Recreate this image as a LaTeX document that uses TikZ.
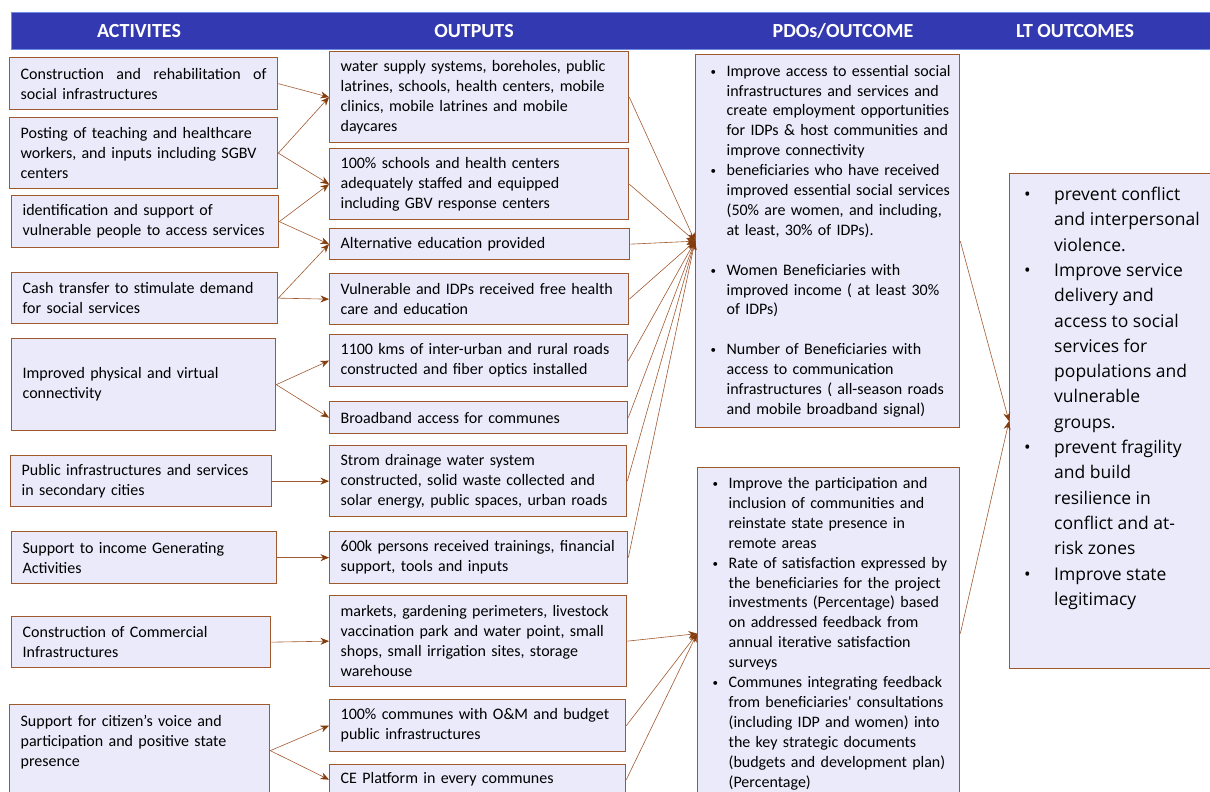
\documentclass[tikz,border=0pt]{standalone}
\usepackage{fontspec}
\setmainfont{Carlito}
\newfontfamily\plainfont[Ligatures=TeXOff]{Carlito}
\newfontfamily\ltfont{Open Sans}
\usetikzlibrary{arrows.meta}
\definecolor{hdrc}{RGB}{51,57,176}
\definecolor{hdrl}{RGB}{110,140,225}
\definecolor{brd}{RGB}{160,88,45}
\definecolor{boxfill}{RGB}{234,234,250}
\definecolor{arr}{RGB}{132,60,12}
\definecolor{lnc}{RGB}{160,90,50}
\newcommand{\smbul}{\raisebox{1pt}{\fontsize{11}{11}\selectfont\textbullet}}
\newcommand{\bitem}[1]{\hspace*{9pt}\makebox[16pt][l]{\smbul}#1}
\newcommand{\bcont}[1]{\hspace*{25pt}#1}
\newcommand{\ltb}[1]{\hspace*{15pt}\makebox[30pt][l]{\textbullet}#1}
\newcommand{\ltc}[1]{\hspace*{45pt}#1}
\tikzset{
  box/.style={draw=brd, fill=boxfill, line width=1.3pt, inner xsep=11pt, inner ysep=0pt,
    align=left, anchor=north west, font=\fontsize{16}{19.9}\selectfont},
  pbox/.style={box, inner xsep=6pt},
  con/.style={draw=lnc, line width=0.6pt, -{Stealth[length=8.5pt,width=7pt,color=arr]}},
  hdrtext/.style={text=white, font=\fontsize{20}{24}\selectfont\bfseries, inner sep=0pt},
  lttext/.style={anchor=north west, inner xsep=0pt, inner ysep=14pt, align=left,
    font=\ltfont\fontsize{17.5}{25.3}\selectfont}
}
\begin{document}
\begin{tikzpicture}[x=1pt,y=-1pt]
\clip (0,0) rectangle (1210,792);
\fill[white] (0,0) rectangle (1210,792);
% header
\node[fill=hdrc, draw=hdrl, line width=0.8pt, anchor=north west, minimum width=1210pt, minimum height=37pt, inner sep=0pt] (hdr) at (11,12) {};
\node[hdrtext] (h1) at (139,31) {ACTIVITES};
\node[hdrtext] (h2) at (474,31) {OUTPUTS};
\node[hdrtext] (h3) at (843,31) {PDOs/OUTCOME};
\node[hdrtext] (h4) at (1075,31) {LT OUTCOMES};
% activities
\node[box, text width=246pt, minimum height=52pt] (a1) at (9,57)
  {\hbox to 246pt{Construction\hfill and\hfill rehabilitation\hfill of}\\social infrastructures};
\node[box, text width=246pt, minimum height=71pt] (a2) at (9,117)
  {Posting of teaching and healthcare\\workers, and inputs including SGBV\\centers};
\node[box, text width=245pt, minimum height=52pt] (a3) at (11,195)
  {identification and support of\\vulnerable people to access services};
\node[box, text width=244pt, minimum height=51pt] (a4) at (11,272)
  {Cash transfer to stimulate demand\\for social services};
\node[box, text width=242pt, minimum height=92pt] (a5) at (11,338)
  {Improved physical and virtual\\connectivity};
\node[box, text width=239pt, minimum height=51pt] (a6) at (10,455)
  {Public infrastructures and services\\in secondary cities};
\node[box, text width=243pt, minimum height=52pt] (a7) at (11,531)
  {Support to income Generating\\Activities};
\node[box, text width=237pt, minimum height=51pt] (a8) at (11,616)
  {Construction of Commercial\\Infrastructures};
\node[box, text width=238pt, minimum height=92pt] (a9) at (9,704)
  {Support for citizen’s voice and\\participation and positive state\\presence\\\mbox{}};
% outputs
\node[box, text width=277pt, minimum height=91pt] (o1) at (329,51)
  {water supply systems, boreholes, public\\latrines, schools, health centers, mobile\\clinics, mobile latrines and mobile\\daycares};
\node[box, text width=277pt, minimum height=71pt] (o2) at (329,148)
  {100\% schools and health centers\\adequately staffed and equipped\\including GBV response centers};
\node[box, text width=278pt, minimum height=31pt] (o3) at (329,228)
  {Alternative education provided};
\node[box, text width=277pt, minimum height=51pt] (o4) at (329,273)
  {Vulnerable and IDPs received free health\\care and education};
\node[box, text width=276pt, minimum height=52pt] (o5) at (329,334)
  {1100 kms of inter-urban and rural roads\\constructed and fiber optics installed};
\node[box, text width=276pt, minimum height=32pt] (o6) at (329,401)
  {Broadband access for communes};
\node[box, text width=275pt, minimum height=71pt] (o7) at (329,445)
  {Strom drainage water system\\constructed, solid waste collected and\\solar energy, public spaces, urban roads};
\node[box, text width=276pt, minimum height=52pt] (o8) at (329,531)
  {600k persons received trainings, financial\\support, tools and inputs};
\node[box, text width=275pt, minimum height=91pt] (o9) at (329,595)
  {markets, gardening perimeters, livestock\\vaccination park and water point, small\\shops, small irrigation sites, storage\\warehouse};
\node[box, text width=274pt, minimum height=52pt] (o10) at (329,699)
  {100\% communes with O\&M and budget\\public infrastructures};
\node[box, text width=274pt, minimum height=30pt] (o11) at (329,764)
  {CE Platform in every communes};
% PDOs
\node[pbox, text width=252pt, minimum height=373pt] (p1) at (695,54)
  {\bitem{Improve access to essential social}\\
   \bcont{infrastructures and services and}\\
   \bcont{create employment opportunities}\\
   \bcont{for IDPs \& host communities and}\\
   \bcont{improve connectivity}\\
   \bitem{beneficiaries who have received}\\
   \bcont{improved essential social services}\\
   \bcont{(50\% are women, and including,}\\
   \bcont{at least, 30\% of IDPs).}\\
   \mbox{}\\
   \bitem{Women Beneficiaries with}\\
   \bcont{improved income ( at least 30\%}\\
   \bcont{of IDPs)}\\
   \mbox{}\\
   \bitem{Number of Beneficiaries with}\\
   \bcont{access to communication}\\
   \bcont{infrastructures ( all-season roads}\\
   \bcont{and mobile broadband signal)}};
\node[pbox, text width=250pt, minimum height=332pt] (p2) at (697,467)
  {\bitem{Improve the participation and}\\
   \bcont{inclusion of communities and}\\
   \bcont{reinstate state presence in}\\
   \bcont{remote areas}\\
   \bitem{Rate of satisfaction expressed by}\\
   \bcont{the beneficiaries for the project}\\
   \bcont{investments (Percentage) based}\\
   \bcont{on addressed feedback from}\\
   \bcont{annual iterative satisfaction}\\
   \bcont{surveys}\\
   \bitem{Communes integrating feedback}\\
   \bcont{from beneficiaries{\plainfont'} consultations}\\
   \bcont{(including IDP and women) into}\\
   \bcont{the key strategic documents}\\
   \bcont{(budgets and development plan)}\\
   \bcont{(Percentage)}};
% LT outcomes
\node[box, minimum width=230pt, minimum height=495pt, inner sep=0pt] (lt) at (1009,173) {};
\node[lttext] (ltt) at (lt.north west)
  {\ltb{prevent conflict}\\
   \ltc{and interpersonal}\\
   \ltc{violence.}\\
   \ltb{Improve service}\\
   \ltc{delivery and}\\
   \ltc{access to social}\\
   \ltc{services for}\\
   \ltc{populations and}\\
   \ltc{vulnerable}\\
   \ltc{groups.}\\
   \ltb{prevent fragility}\\
   \ltc{and build}\\
   \ltc{resilience in}\\
   \ltc{conflict and at-}\\
   \ltc{risk zones}\\
   \ltb{Improve state}\\
   \ltc{legitimacy}};
% activities -> outputs
\draw[con] (a1.east) -- (o1.west);
\draw[con] (a2.east) -- (o1.west);
\draw[con] (a2.east) -- (o2.west);
\draw[con] (a3.east) -- (o2.west);
\draw[con] (a3.east) -- (o3.west);
\draw[con] (a4.east) -- (o3.west);
\draw[con] (a4.east) -- (o4.west);
\draw[con] (a5.east) -- (o5.west);
\draw[con] (a5.east) -- (o6.west);
\draw[con] (a6.east) -- (o7.west);
\draw[con] (a7.east) -- (o8.west);
\draw[con] (a8.east) -- (o9.west);
\draw[con] (a9.east) -- (o10.west);
\draw[con] (a9.east) -- (o11.west);
% outputs -> PDOs
\foreach \o in {o1,o2,o3,o4,o5,o6,o7,o8} \draw[con] (\o.east) -- (p1.west);
\foreach \o in {o9,o10,o11} \draw[con] (\o.east) -- (p2.west);
% PDOs -> LT
\draw[con] (p1.east) -- (lt.west);
\draw[con] (p2.east) -- (lt.west);
\end{tikzpicture}
\end{document}
